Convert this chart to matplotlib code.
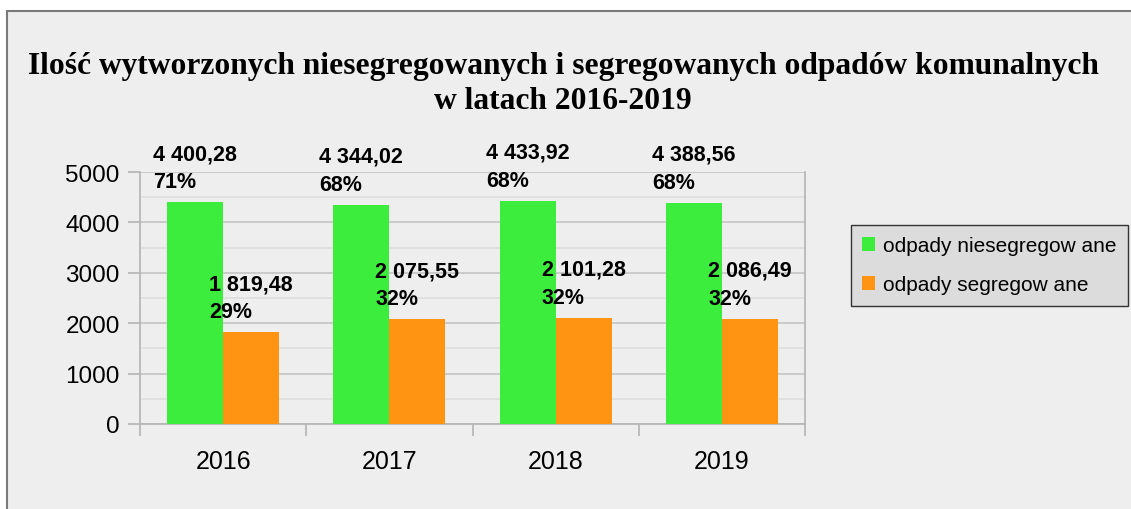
import numpy as np
import matplotlib
matplotlib.use("Agg")
import matplotlib.pyplot as plt
from matplotlib.patches import Rectangle, Patch
from matplotlib.ticker import MultipleLocator

# dane
years = ["2016", "2017", "2018", "2019"]
niesegregowane = [4400.28, 4344.02, 4433.92, 4388.56]
segregowane = [1819.48, 2075.55, 2101.28, 2086.49]
udzial_nieseg = [71, 68, 68, 68]
udzial_seg = [29, 32, 32, 32]
series_names = ["odpady niesegregow ane", "odpady segregow ane"]
title = ("Ilość wytworzonych niesegregowanych i segregowanych odpadów komunalnych\n"
         "w latach 2016-2019")

GREEN = "#3ded3d"
ORANGE = "#ff9412"
BG = "#eeeeee"

def fmt(v):
    s = f"{v:,.2f}"
    return s.replace(",", " ").replace(".", ",")

plt.rcParams['font.family'] = ['Liberation Sans', 'DejaVu Sans']

W, H = 1131, 510
fig = plt.figure(figsize=(W / 100, H / 100), dpi=100, facecolor="white")

# ramka tła
fig.patches.append(Rectangle((7 / W, -0.1), 1.1, (H - 12) / H + 0.1,
                             transform=fig.transFigure, facecolor=BG,
                             edgecolor="#7a7a7a", linewidth=1.5, zorder=-10))

ax = fig.add_axes([140 / W, 85 / H, 665 / W, 252 / H])
ax.set_facecolor(BG)

x = np.arange(len(years))
bw = 56 / 166.25
ax.bar(x - bw / 2, niesegregowane, bw, color=GREEN, zorder=3)
ax.bar(x + bw / 2, segregowane, bw, color=ORANGE, zorder=3)

for i in range(len(years)):
    ax.annotate(f"{fmt(niesegregowane[i])}\n{udzial_nieseg[i]}%",
                (x[i] - bw / 2, niesegregowane[i]), xytext=(0, 10),
                textcoords="offset pixels", ha="center", va="bottom",
                ma="left", fontsize=15.5, fontweight="bold",
                linespacing=1.45, zorder=5, annotation_clip=False)
    ax.annotate(f"{fmt(segregowane[i])}\n{udzial_seg[i]}%",
                (x[i] + bw / 2, segregowane[i]), xytext=(0, 10),
                textcoords="offset pixels", ha="center", va="bottom",
                ma="left", fontsize=15.5, fontweight="bold",
                linespacing=1.45, zorder=5, annotation_clip=False)

ax.set_xlim(-0.5, len(years) - 0.5)
ax.set_ylim(0, 5000)
ax.yaxis.set_major_locator(MultipleLocator(1000))
ax.yaxis.set_minor_locator(MultipleLocator(500))
ax.grid(axis="y", which="major", color="#c4c4c4", linewidth=1.2, zorder=1)
ax.grid(axis="y", which="minor", color="#dedede", linewidth=1.2, zorder=1)

ax.set_xticks(np.arange(len(years) + 1) - 0.5)
ax.set_xticklabels([])
ax.set_xticks(x, minor=True)
ax.set_xticklabels(years, minor=True)
ax.tick_params(axis="x", which="major", length=8.5, color="#b4b4b4", width=1.2)
ax.tick_params(axis="x", which="minor", length=0, pad=18, labelsize=18)
ax.tick_params(axis="y", which="major", length=8.5, color="#b4b4b4", width=1.2,
               pad=6, labelsize=17.5)
ax.tick_params(axis="y", which="minor", length=0)

for s in ["left", "bottom", "right"]:
    ax.spines[s].set_color("#b4b4b4")
    ax.spines[s].set_linewidth(1.2)
ax.spines["top"].set_visible(False)

fig.text(563 / W, (H - 84) / H, title, ha="center", va="center",
         fontsize=22.7, fontweight="bold", family=["Liberation Serif", "DejaVu Serif"],
         linespacing=1.25)

handles = [Patch(facecolor=GREEN), Patch(facecolor=ORANGE)]
leg = fig.legend(handles, series_names, loc="upper left",
                 bbox_to_anchor=(851 / W, (H - 226) / H), fontsize=15,
                 frameon=True, fancybox=False, facecolor="#dcdcdc",
                 edgecolor="#333333", framealpha=1, handlelength=0.6,
                 handleheight=0.6, handletextpad=0.4, labelspacing=0.95,
                 borderpad=0.55, borderaxespad=0)
leg.get_frame().set_linewidth(1.0)

fig.savefig("out.png", dpi=100, facecolor="white")
